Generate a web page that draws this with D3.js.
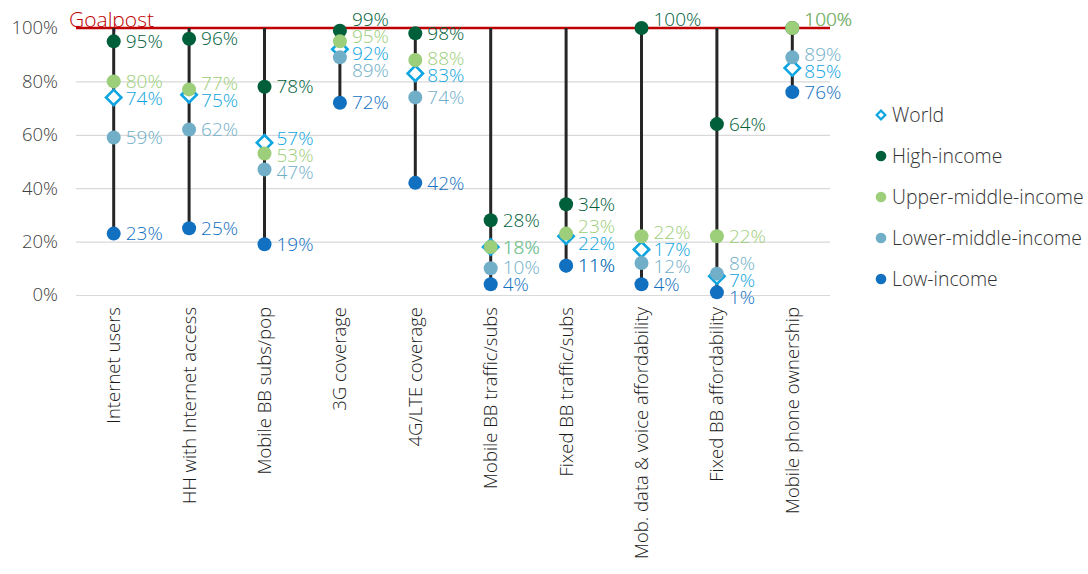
<!DOCTYPE html>
<html>
<head>
<meta charset="utf-8">
<script src="https://cdn.jsdelivr.net/npm/d3@7"></script>
<style>
  html, body { margin: 0; padding: 0; background: #fff; }
  svg { display: block; font-family: "Open Sans", Lato, sans-serif; font-weight: 300; }
</style>
</head>
<body>
<svg id="chart" width="1088" height="574"></svg>
<script>
// Indicator categories along the x axis
const categories = [
  "Internet users", "HH with Internet access", "Mobile BB subs/pop", "3G coverage",
  "4G/LTE coverage", "Mobile BB traffic/subs", "Fixed BB traffic/subs",
  "Mob. data & voice affordability", "Fixed BB affordability", "Mobile phone ownership"
];

// Values (% of goalpost) per income group
const world       = [74, 75, 57, 92, 83, 18, 22, 17,  7,  85];
const highIncome  = [95, 96, 78, 99, 98, 28, 34, 100, 64, 100];
const upperMiddle = [80, 77, 53, 95, 88, 18, 23, 22, 22, 100];
const lowerMiddle = [59, 62, 47, 89, 74, 10, 11, 12,  8,  89];
const lowIncome   = [23, 25, 19, 72, 42,  4, 11,  4,  1,  76];

const yTicks = [0, 20, 40, 60, 80, 100];
const goalpost = 100;

// Series definitions (drawing order: world first, then groups)
const series = [
  { name: "World",               values: world,       color: "#0ea5e0", shape: "diamond" },
  { name: "High-income",         values: highIncome,  color: "#005f3b", shape: "dot" },
  { name: "Upper-middle-income", values: upperMiddle, color: "#9dce7a", shape: "dot" },
  { name: "Lower-middle-income", values: lowerMiddle, color: "#71afc9", shape: "dot" },
  { name: "Low-income",          values: lowIncome,   color: "#1170bf", shape: "dot" }
];

const svg = d3.select("#chart");
const plot = { left: 76, right: 830, top: 28, bottom: 295 };

const x = d3.scaleBand().domain(categories).range([plot.left, plot.right]);
const y = d3.scaleLinear().domain([0, 100]).range([plot.bottom, plot.top]);

// Gridlines + y tick labels
const yAxis = svg.append("g")
  .attr("transform", `translate(${plot.left},0)`)
  .call(d3.axisLeft(y).tickValues(yTicks).tickFormat(d => d + "%")
    .tickSizeInner(-(plot.right - plot.left)).tickSizeOuter(0).tickPadding(18));
yAxis.select(".domain").remove();
yAxis.selectAll(".tick line").attr("stroke", "#d9d9d9").attr("stroke-width", 1.2);
yAxis.selectAll(".tick text").attr("fill", "#404040")
  .style("font-size", "18.5px").style("font-family", "'Open Sans', sans-serif");

// Category labels (rotated)
const xAxis = svg.append("g")
  .attr("transform", `translate(0,${plot.bottom})`)
  .call(d3.axisBottom(x).tickSize(0));
xAxis.select(".domain").remove();
xAxis.selectAll(".tick text")
  .attr("transform", "rotate(-90)")
  .attr("x", -12).attr("y", 0).attr("dy", "0.35em")
  .style("text-anchor", "end")
  .style("font-size", "18.5px").style("font-family", "'Open Sans', sans-serif")
  .attr("fill", "#1a1a1a");

// Goalpost line
svg.append("line")
  .attr("x1", plot.left).attr("x2", plot.right)
  .attr("y1", y(goalpost)).attr("y2", y(goalpost))
  .attr("stroke", "#c00000").attr("stroke-width", 2.6);
svg.append("text")
  .attr("x", 69).attr("y", y(goalpost) - 1)
  .attr("fill", "#c00000").style("font-size", "21px")
  .text("Goalpost");

// Vertical range lines from goalpost down to the lowest value
const colMin = categories.map((c, i) => d3.min(series, s => s.values[i]));
svg.append("g").selectAll("line").data(categories).join("line")
  .attr("x1", c => x(c) + x.bandwidth() / 2)
  .attr("x2", c => x(c) + x.bandwidth() / 2)
  .attr("y1", y(goalpost))
  .attr("y2", (c, i) => y(colMin[i]))
  .attr("stroke", "#262626").attr("stroke-width", 3);

const diamond = d3.symbol().type(d3.symbolSquare);

// Markers
series.forEach(s => {
  const g = svg.append("g");
  const pts = categories.map((c, i) => ({ c, v: s.values[i] }));
  if (s.shape === "diamond") {
    g.selectAll("path").data(pts).join("path")
      .attr("d", diamond.size(118)())
      .attr("transform", d => `translate(${x(d.c) + x.bandwidth() / 2},${y(d.v)}) rotate(45)`)
      .attr("fill", "#fff").attr("stroke", s.color).attr("stroke-width", 2.6);
  } else {
    g.selectAll("circle").data(pts).join("circle")
      .attr("cx", d => x(d.c) + x.bandwidth() / 2)
      .attr("cy", d => y(d.v))
      .attr("r", 7)
      .attr("fill", s.color);
  }
});

// Value labels, spread apart within each column so they stay readable
const gap = 17;
const labelG = svg.append("g").style("font-size", "19px");
categories.forEach((c, i) => {
  const groups = d3.groups(series, s => s.values[i]).map(([v, ss]) => ({
    v, ss, y: v >= 99 ? y(goalpost) - 9 : y(v), fixed: v >= 99
  })).sort((a, b) => a.y - b.y);
  for (let it = 0; it < 200; it++) {
    for (let j = 1; j < groups.length; j++) {
      const a = groups[j - 1], b = groups[j];
      const d = b.y - a.y;
      if (d < gap) {
        if (a.fixed) b.y += gap - d;
        else { a.y -= (gap - d) / 2; b.y += (gap - d) / 2; }
      }
    }
  }
  const cx = x(c) + x.bandwidth() / 2;
  groups.forEach(gp => {
    gp.ss.forEach(s => {
      labelG.append("text")
        .attr("x", cx + 12).attr("y", gp.y).attr("dy", "0.35em")
        .attr("fill", s.color)
        .text(gp.v + "%");
    });
  });
});

// Legend
const legend = svg.append("g").attr("transform", "translate(881,115)");
series.forEach((s, k) => {
  const row = legend.append("g").attr("transform", `translate(0,${k * 41})`);
  if (s.shape === "diamond") {
    row.append("path").attr("d", diamond.size(38)())
      .attr("transform", "rotate(45)")
      .attr("fill", "#fff").attr("stroke", s.color).attr("stroke-width", 2.2);
  } else {
    row.append("circle").attr("r", 5.3).attr("fill", s.color);
  }
  row.append("text").attr("x", 11).attr("dy", "0.35em")
    .style("font-size", "19.4px").attr("fill", "#333")
    .text(s.name);
});
</script>
</body>
</html>
